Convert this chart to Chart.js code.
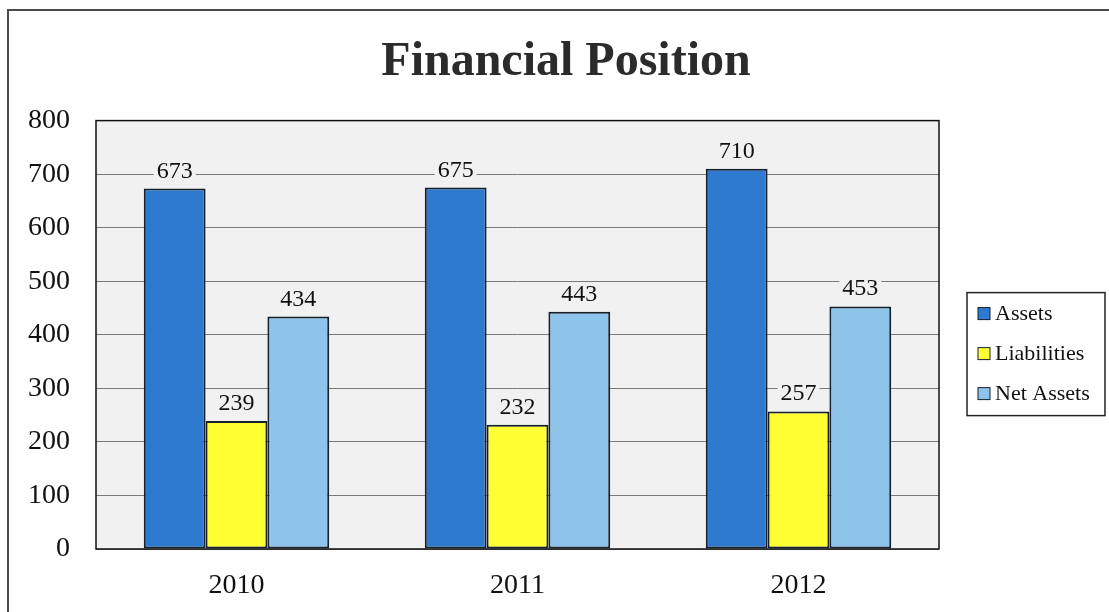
<!DOCTYPE html>
<html>
<head>
<meta charset="utf-8">
<title>Financial Position</title>
<script src="https://cdn.jsdelivr.net/npm/chart.js@4.4.1/dist/chart.umd.min.js"></script>
<style>
    html, body { margin: 0; padding: 0; background: #fff; }
    canvas { display: block; }
</style>
</head>
<body>
<canvas id="myChart" width="1109" height="612"></canvas>
<script>
var years = ["2010", "2011", "2012"];
var seriesNames = ["Assets", "Liabilities", "Net Assets"];
var assets = [673, 675, 710];
var liabilities = [239, 232, 257];
var netAssets = [434, 443, 453];
var yTicks = [0, 100, 200, 300, 400, 500, 600, 700, 800];

var fillColors = ["#2f7ad1", "#ffff33", "#8ec3ea"];
var edgeColor = "#15202c";
var plotBg = "#f1f1f1";
var serif = "'Liberation Serif', 'Times New Roman', serif";

// white page, the thin frame along top and left, grey plot background
var backdrop = {
    id: 'backdrop',
    beforeDraw: function (chart) {
        var ctx = chart.ctx, a = chart.chartArea;
        ctx.save();
        ctx.fillStyle = '#fff';
        ctx.fillRect(0, 0, chart.width, chart.height);
        ctx.strokeStyle = '#4a4a4a';
        ctx.lineWidth = 2;
        ctx.beginPath();
        ctx.moveTo(8, chart.height);
        ctx.lineTo(8, 10);
        ctx.lineTo(chart.width, 10);
        ctx.stroke();
        ctx.fillStyle = plotBg;
        ctx.fillRect(a.left, a.top, a.right - a.left, a.bottom - a.top);
        ctx.restore();
    }
};

// value above each bar + box round the plot
var barValues = {
    id: 'barValues',
    afterDatasetsDraw: function (chart) {
        var ctx = chart.ctx, a = chart.chartArea;
        ctx.save();
        ctx.font = "24px " + serif;
        ctx.textAlign = 'center';
        ctx.textBaseline = 'alphabetic';
        chart.data.datasets.forEach(function (ds, i) {
            chart.getDatasetMeta(i).data.forEach(function (bar, j) {
                var txt = String(ds.data[j]);
                var w = ctx.measureText(txt).width;
                var base = bar.y - 11;
                ctx.fillStyle = plotBg;
                ctx.fillRect(bar.x - w / 2 - 3, base - 18, w + 6, 22);
                ctx.fillStyle = '#111';
                ctx.fillText(txt, bar.x, base);
            });
        });
        ctx.strokeStyle = '#111';
        ctx.lineWidth = 1.5;
        ctx.strokeRect(a.left, a.top, a.right - a.left, a.bottom - a.top);
        ctx.restore();
    }
};

// legend panel on the right, added as a layout box so the title stays centred on the page
var legendPanel = {
    id: 'legendPanel',
    beforeInit: function (chart) {
        var box = {
            position: 'right', weight: 0, fullSize: false,
            options: {},
            left: 0, top: 0, right: 0, bottom: 0, width: 0, height: 0,
            isHorizontal: function () { return false; },
            update: function (maxWidth, maxHeight) {
                this.width = 170;
                this.height = maxHeight;
            },
            draw: function () {
                var ctx = chart.ctx;
                var x0 = this.left + 28, y0 = this.top + 172;
                ctx.save();
                ctx.strokeStyle = '#222';
                ctx.lineWidth = 1.5;
                ctx.strokeRect(x0, y0, 138, 123);
                ctx.font = "22px " + serif;
                ctx.textBaseline = 'middle';
                chart.data.datasets.forEach(function (ds, i) {
                    var cy = y0 + 21 + i * 40;
                    ctx.fillStyle = ds.backgroundColor;
                    ctx.fillRect(x0 + 11, cy - 6, 12, 12);
                    ctx.strokeStyle = edgeColor;
                    ctx.lineWidth = 1;
                    ctx.strokeRect(x0 + 11, cy - 6, 12, 12);
                    ctx.fillStyle = '#111';
                    ctx.fillText(ds.label, x0 + 28, cy + 1);
                });
                ctx.restore();
            }
        };
        Chart.layouts.addBox(chart, box);
    }
};

var seriesData = [assets, liabilities, netAssets];

new Chart("myChart", {
    type: "bar",
    data: {
        labels: years,
        datasets: seriesData.map(function (vals, i) {
            return {
                label: seriesNames[i],
                data: vals,
                backgroundColor: fillColors[i],
                borderColor: edgeColor,
                borderWidth: 2,
                borderSkipped: false,
                categoryPercentage: 0.66,
                barPercentage: 1
            };
        })
    },
    options: {
        responsive: false,
        animation: false,
        devicePixelRatio: 1,
        layout: {
            padding: { left: 23, right: 0, top: 0, bottom: 0 }
        },
        plugins: {
            legend: { display: false },
            tooltip: { enabled: false },
            title: {
                display: true,
                text: "Financial Position",
                color: '#2b2b2b',
                font: { family: serif, size: 48, weight: 'bold' },
                padding: { top: 34, bottom: 29 }
            }
        },
        scales: {
            x: {
                grid: { display: false, drawTicks: false },
                border: { display: false },
                ticks: { padding: 20, color: '#111', font: { family: serif, size: 28 } },
                afterFit: function (s) { s.height = 63; }
            },
            y: {
                min: 0,
                max: 800,
                afterBuildTicks: function (s) {
                    s.ticks = yTicks.map(function (v) { return { value: v }; });
                },
                grid: { color: '#7a7a7a', lineWidth: 1, drawTicks: false, tickLength: 0 },
                border: { display: false },
                ticks: { padding: 26, color: '#111', font: { family: serif, size: 28 } },
                afterFit: function (s) { s.width = 73; }
            }
        }
    },
    plugins: [backdrop, barValues, legendPanel]
});
</script>
</body>
</html>
